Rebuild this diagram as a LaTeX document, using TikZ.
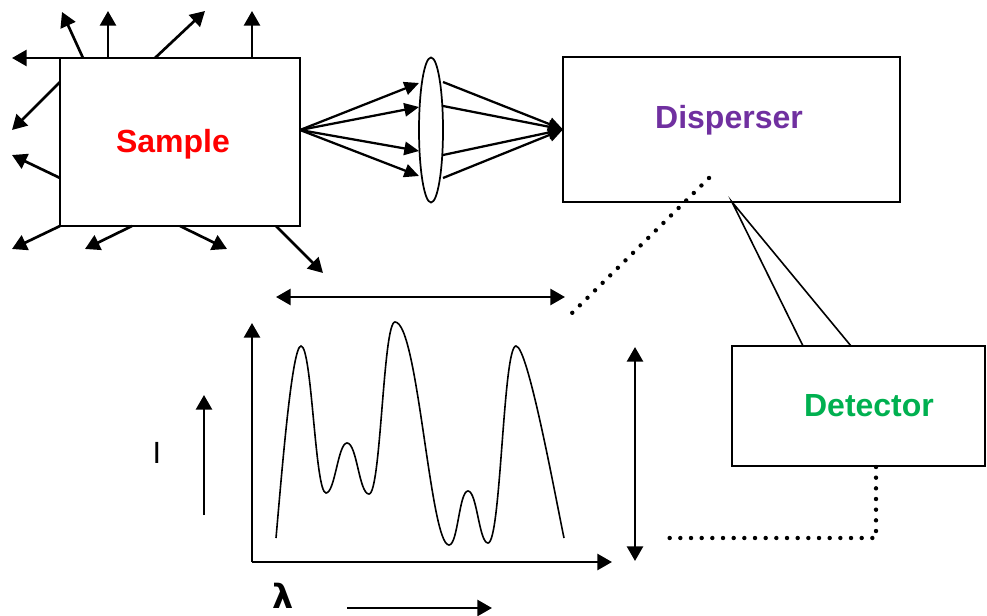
\documentclass[tikz,border=0pt]{standalone}
\usepackage{fontspec}
\setmainfont{Liberation Sans}
\newfontfamily\symfont{DejaVu Sans}
\usetikzlibrary{arrows.meta,shapes.geometric}
\definecolor{sred}{RGB}{255,0,0}
\definecolor{dpurple}{RGB}{112,48,160}
\definecolor{dgreen}{RGB}{0,176,80}
\begin{document}
\begin{tikzpicture}[x=0.75pt,y=-0.75pt,
  box/.style={draw, line width=1.6pt, inner sep=0pt, outer sep=0pt},
  arr/.style={line width=2pt, -{Triangle[length=11pt,width=12pt]}},
  darr/.style={line width=2pt, {Triangle[length=11pt,width=12pt]}-{Triangle[length=11pt,width=12pt]}},
  lensarr/.style={line width=1.7pt, -{Triangle[length=11pt,width=10pt]}},
  dotline/.style={line width=3.3pt, line cap=round, dash pattern=on 0pt off 8pt},
  thinline/.style={line width=1.2pt},
  lbl/.style={font=\bfseries\fontsize{24}{27}\selectfont, inner sep=0pt}]
\useasboundingbox (0,0) rectangle (987,616);

% boxes
\node[box, minimum width=180pt, minimum height=126pt] (sample) at (180,142) {};
\node[box, minimum width=252.75pt, minimum height=108.75pt] (disp) at (731.5,129.5) {};
\node[box, minimum width=189.75pt, minimum height=90pt] (det) at (858.5,406) {};
\node[draw, ellipse, line width=1.3pt, inner sep=0pt, outer sep=0pt,
      minimum width=18pt, minimum height=108.75pt] (lens) at (431,130) {};

% labels
\node[lbl, text=sred] (sampletxt) at (173,144) {Sample};
\node[lbl, text=dpurple] (disptxt) at (729,120) {Disperser};
\node[lbl, text=dgreen] (dettxt) at (869,406) {Detector};
\node[font=\fontsize{23}{25}\selectfont, inner sep=0pt] (ilbl) at (157,453) {I};
\node[font=\symfont\bfseries\fontsize{25}{28}\selectfont, inner sep=0pt] (lamlbl) at (283,596) {λ};

% scattered light from sample
\foreach \i/\ax/\ay/\bx/\by in {1/83/58/62/12, 2/108/58/108/11, 3/155/58/205/11,
  4/252/58/252/11, 5/60/58/12/58, 6/60/82/12/130,
  7/60/178/12/155, 8/60/226/12/249, 9/132/226/85/249,
  10/180/226/227/249, 11/276/226/323/273} {
  \coordinate (sa\i) at (\ax,\ay);
  \coordinate (st\i) at (\bx,\by);
  \draw[arr] (sa\i) -- (st\i);
}

% rays through lens
\coordinate (src) at (300,130);
\foreach \i/\y in {1/83, 2/107, 3/151, 4/176} {
  \coordinate (li\i) at (419,\y);
  \draw[lensarr] (src) -- (li\i);
}
\foreach \i/\y in {1/82, 2/106, 3/155, 4/178} {
  \coordinate (lo\i) at (443,\y);
  \draw[lensarr] (lo\i) -- (disp.west);
}

% dispersed beam to detector
\coordinate (dsp) at (732,202);
\coordinate (dd1) at (803,346);
\coordinate (dd2) at (851,346);
\draw[thinline] (dd1) -- (dsp) -- (dd2);

% dotted lines
\coordinate (dot1a) at (709,178);
\coordinate (dot1b) at (567,318);
\draw[dotline] (dot1a) -- (dot1b);
\coordinate (dot2a) at (876,467);
\coordinate (dot2b) at (876,538);
\coordinate (dot2c) at (667,538);
\draw[dotline] (dot2a) -- (dot2b) -- (dot2c);

% double arrows
\coordinate (ha) at (276,297);
\coordinate (hb) at (565,297);
\draw[darr] (ha) -- (hb);
\coordinate (va) at (635,347);
\coordinate (vb) at (635,561);
\draw[darr] (va) -- (vb);

% axes
\coordinate (origin) at (252,562);
\coordinate (ytip) at (252,323);
\coordinate (xtip) at (612,562);
\draw[arr] (origin) -- (ytip);
\draw[arr] (origin) -- (xtip);

% I and lambda arrows
\coordinate (ia) at (204,515);
\coordinate (ib) at (204,395);
\draw[arr] (ia) -- (ib);
\coordinate (la) at (347,608);
\coordinate (lb) at (492,608);
\draw[arr] (la) -- (lb);

% spectrum
\draw[thinline] (276,538) .. controls (282,470) and (292,346) .. (301,346)
 .. controls (312,346) and (315,493) .. (326,493)
 .. controls (335,493) and (338,443) .. (347,443)
 .. controls (357,443) and (359,494) .. (369,494)
 .. controls (381,494) and (383,322) .. (395,322)
 .. controls (418,322) and (430,545) .. (449,545)
 .. controls (458,545) and (459,491) .. (468,491)
 .. controls (477,491) and (479,543) .. (488,543)
 .. controls (501,543) and (503,346) .. (516,346)
 .. controls (528,346) and (556,500) .. (564,538);
\end{tikzpicture}
\end{document}
